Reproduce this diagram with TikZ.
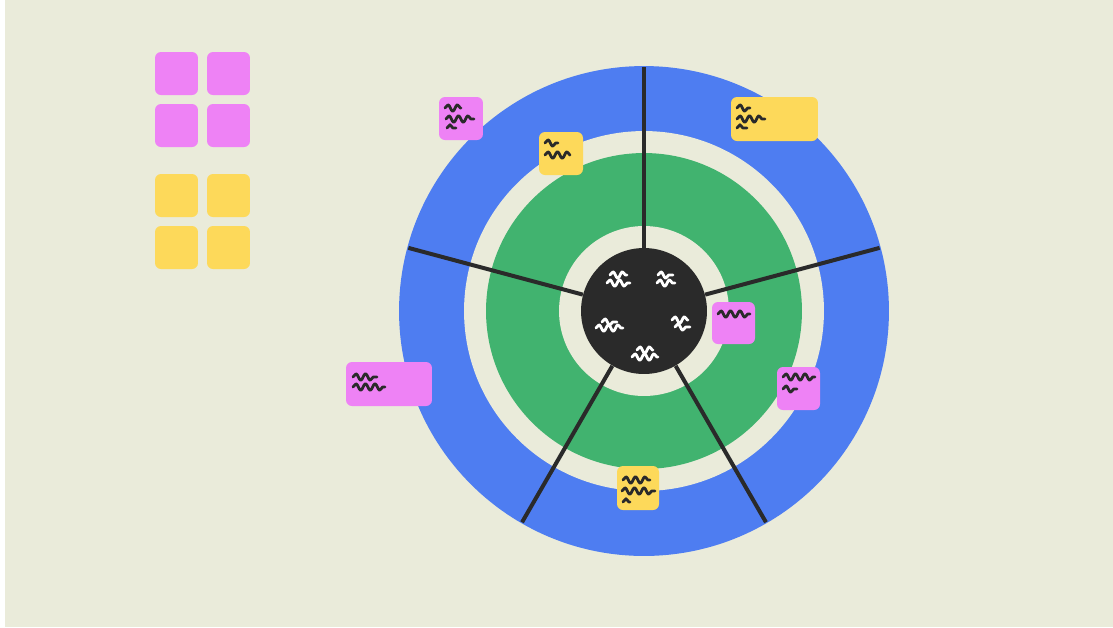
\documentclass[tikz,border=0pt]{standalone}
\usepackage{tikz}
\usetikzlibrary{decorations.pathmorphing}

\definecolor{bgcol}{HTML}{EAEBDA}
\definecolor{ringblue}{HTML}{4E7DF1}
\definecolor{ringgreen}{HTML}{41B36F}
\definecolor{hubcol}{HTML}{2A2A2A}
\definecolor{notepink}{HTML}{EE82F5}
\definecolor{noteyellow}{HTML}{FDD95A}

\tikzset{
  note/.style={rectangle, rounded corners=0.12cm, inner sep=0pt},
  pinknote/.style={note, fill=notepink, minimum width=0.86cm, minimum height=0.86cm},
  yellownote/.style={note, fill=noteyellow, minimum width=0.86cm, minimum height=0.86cm},
  spoke/.style={draw=hubcol, line width=0.08cm},
  scribble/.style={draw=hubcol, line width=1.6pt, line cap=round, line join=round,
    decorate, decoration={snake, segment length=0.19cm, amplitude=0.065cm}},
  wscribble/.style={scribble, draw=white}
}

\begin{document}
\begin{tikzpicture}[x=0.02cm, y=-0.02cm]
        \useasboundingbox (0,0) rectangle (1113,627);
        \fill[white] (0,0) rectangle (1113,627);
        \fill[bgcol] (5,0) rectangle (1113,627);

        % target rings
        \coordinate (c) at (644,311);
        \fill[ringblue] (c) circle (4.9cm);
        \fill[bgcol] (c) circle (3.6cm);
        \fill[ringgreen] (c) circle (3.16cm);
        \fill[bgcol] (c) circle (1.7cm);
        \node[circle, fill=hubcol, inner sep=0pt, minimum size=2.52cm] (hub) at (c) {};

        \foreach \a in {90,15,-60,-120,165}
            \draw[spoke] (hub.\a) -- ([shift={(\a:4.88cm)}]hub.center);

        % legend
        \node[pinknote] (p1) at (176.5,73.5) {};
        \node[pinknote] (p2) at (228.5,73.5) {};
        \node[pinknote] (p3) at (176.5,125.5) {};
        \node[pinknote] (p4) at (228.5,125.5) {};
        \node[yellownote] (y1) at (176.5,195.5) {};
        \node[yellownote] (y2) at (228.5,195.5) {};
        \node[yellownote] (y3) at (176.5,247.5) {};
        \node[yellownote] (y4) at (228.5,247.5) {};

        % notes on the target
        \node[pinknote, minimum width=0.88cm] (n1) at (461,118.5) {};
        \node[yellownote, minimum width=0.88cm] (n2) at (561,153.5) {};
        \node[yellownote, minimum width=1.74cm, minimum height=0.88cm] (n3) at (774.5,119) {};
        \node[pinknote, minimum height=0.84cm] (n4) at (733.5,323) {};
        \node[pinknote] (n5) at (798.5,388.5) {};
        \node[pinknote, minimum width=1.72cm, minimum height=0.88cm] (n6) at (389,384) {};
        \node[yellownote, minimum width=0.84cm, minimum height=0.88cm] (n7) at (638,488) {};

        % scribbles
        \draw[scribble] (445,108) -- (461,108);
        \draw[scribble] (446,119) -- (474,119);
        \draw[scribble] (447,128) -- (456,128);

        \draw[scribble] (545,143) -- (558,143);
        \draw[scribble] (545,155) -- (570,155);

        \draw[scribble] (737,108) -- (750,108);
        \draw[scribble] (737,119) -- (765,119);
        \draw[scribble] (737,128) -- (747,128);

        \draw[scribble] (718,314) -- (750,314);

        \draw[scribble] (783,377) -- (815,377);
        \draw[scribble] (783,389) -- (797,389);

        \draw[scribble] (353,377) -- (377,377);
        \draw[scribble] (353,387) -- (385,387);

        \draw[scribble] (623,480) -- (650,480);
        \draw[scribble] (622,491) -- (655,491);
        \draw[scribble] (623,502) -- (630,502);

        \draw[wscribble] (610,275) -- (627,275);
        \draw[wscribble] (607,283) -- (630,283);
        \draw[wscribble] (658,275) -- (673,275);
        \draw[wscribble] (657,283) -- (675,283);
        \draw[wscribble] (602,322) -- (617,322);
        \draw[wscribble] (596,328) -- (623,328);
        \draw[wscribble] (672,320) -- (688,320);
        \draw[wscribble] (675,327) -- (690,327);
        \draw[wscribble] (637,350) -- (653,350);
        \draw[wscribble] (632,357) -- (658,357);
\end{tikzpicture}
\end{document}
